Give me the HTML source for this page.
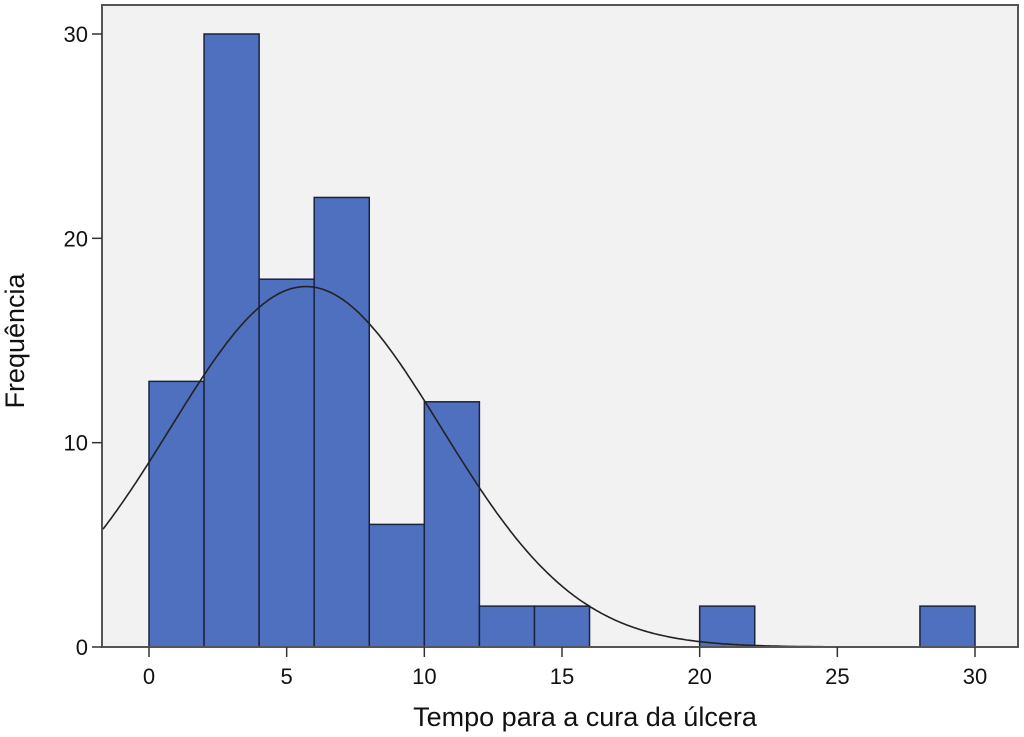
<!DOCTYPE html>
<html><head><meta charset="utf-8"><style>
body{margin:0;background:#fff;}
svg text{font-family:"Liberation Sans",sans-serif;fill:#111;}
</style></head><body>
<svg id="chart" width="1024" height="732" xmlns="http://www.w3.org/2000/svg"></svg>
<script>
const binStarts=[0,2,4,6,8,10,12,14,20,28];
const binWidth=2;
const counts=[13,30,18,22,6,12,2,2,2,2];
const xTicks=[0,5,10,15,20,25,30];
const yTicks=[0,10,20,30];
const curveMean=5.7, curveSd=4.93;

const L=102,R=1018,T=5,B=647;
const X0=149,X30=975;
const xs=v=>X0+(v/30)*(X30-X0);
const ys=v=>B-(v/30)*(B-34);
const NS="http://www.w3.org/2000/svg";
const svg=document.getElementById('chart');
function mk(tag,attrs){const e=document.createElementNS(NS,tag);for(const k in attrs)e.setAttribute(k,attrs[k]);svg.appendChild(e);return e;}

let bg=mk('rect',{x:L,y:T,width:R-L,height:B-T,fill:'#f2f2f2',stroke:'#555','stroke-width':2});



binStarts.forEach((s,i)=>{
  const r=mk('rect',{x:xs(s),y:ys(counts[i]),width:xs(s+binWidth)-xs(s),height:B-ys(counts[i]),fill:'#4f6fbf',stroke:'#1a2340','stroke-width':1.5});
  
  
});

const total=counts.reduce((a,b)=>a+b,0);
let d='';
for(let v=-1.67;v<=31.6;v+=0.1){
  const y=total*binWidth/(curveSd*Math.sqrt(2*Math.PI))*Math.exp(-((v-curveMean)**2)/(2*curveSd*curveSd));
  d+=(d?'L':'M')+xs(v).toFixed(1)+','+ys(y).toFixed(1);
}
let c=mk('path',{d:d,fill:'none',stroke:'#222','stroke-width':1.6});



let ax=mk('line',{x1:L,y1:B,x2:R,y2:B,stroke:'#555','stroke-width':2});



xTicks.forEach(t=>{
  mk('line',{x1:xs(t),y1:B,x2:xs(t),y2:B+10,stroke:'#333','stroke-width':1.5});
  const tx=mk('text',{x:xs(t),y:B+37,'text-anchor':'middle','font-size':22});
  tx.textContent=t;
  
  
});
yTicks.forEach(t=>{
  mk('line',{x1:L-10,y1:ys(t),x2:L,y2:ys(t),stroke:'#333','stroke-width':1.5});
  const tx=mk('text',{x:L-14,y:ys(t)+8,'text-anchor':'end','font-size':22});
  tx.textContent=t;
  
  
});
let xt=mk('text',{x:585,y:726,'text-anchor':'middle','font-size':27});
xt.textContent='Tempo para a cura da úlcera';


let yt=mk('text',{x:0,y:0,'text-anchor':'middle','font-size':27,transform:'translate(24,341) rotate(-90)'});
yt.textContent='Frequência';


</script>
</body></html>
